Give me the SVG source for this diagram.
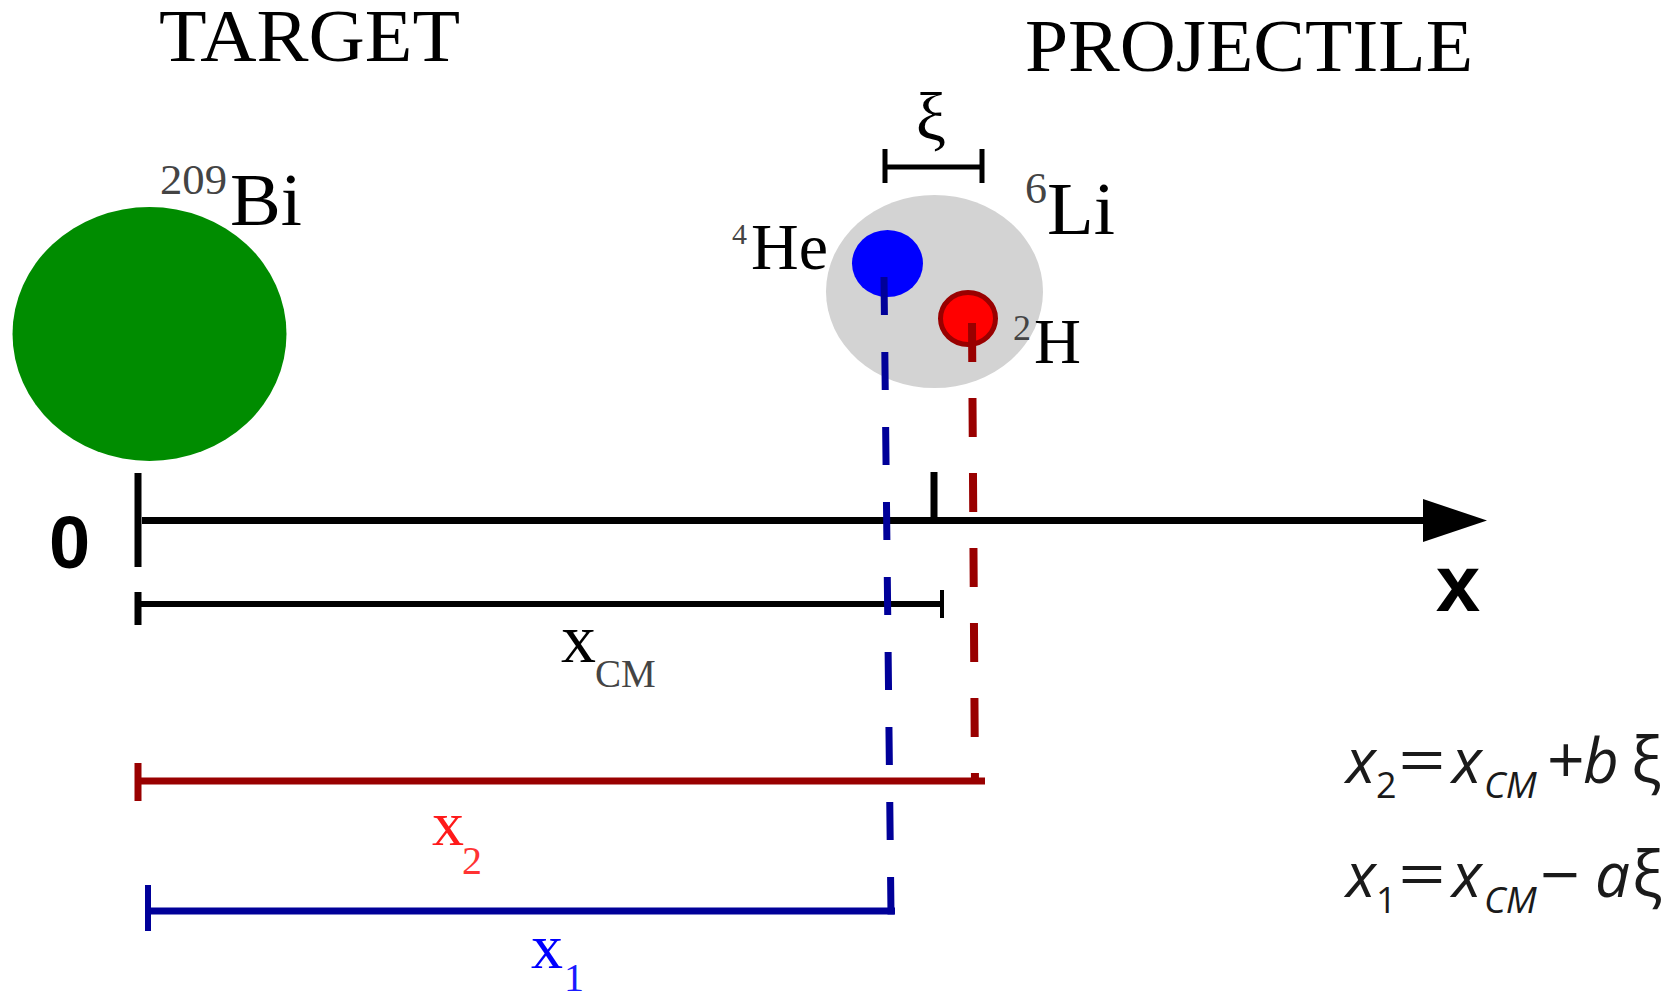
<svg xmlns="http://www.w3.org/2000/svg" width="1676" height="992" viewBox="0 0 1676 992">
  <style>
    .serif { font-family: "Liberation Serif", "Times New Roman", serif; fill: #000; }
    .sup { font-family: "Liberation Serif", "Times New Roman", serif; fill: #444; }
    .bold { font-family: "Liberation Sans", Arial, sans-serif; font-weight: bold; fill: #000; }
    .eq { font-family: "Open Sans", "DejaVu Sans", sans-serif; fill: #1a1a1a; }
    .it { font-style: italic; }
    .blk { stroke: #000; fill: none; }
    .dblue { stroke: #000099; fill: none; }
    .dred { stroke: #990000; fill: none; }
  </style>
  <defs>
    <marker id="arrow" markerUnits="userSpaceOnUse" markerWidth="66" markerHeight="46" refX="2" refY="23" orient="auto">
      <polygon points="0,1.5 64,23 0,44.5" fill="#000"/>
    </marker>
  </defs>
  <rect x="0" y="0" width="1676" height="992" fill="#ffffff"/>

  <!-- headings -->
  <g id="heading-target">
    <text class="serif" x="159" y="61" font-size="75" textLength="301" lengthAdjust="spacingAndGlyphs">TARGET</text>
  </g>
  <g id="heading-projectile">
    <text class="serif" x="1025" y="71" font-size="75" textLength="448" lengthAdjust="spacingAndGlyphs">PROJECTILE</text>
  </g>

  <!-- target nucleus -->
  <g id="node-bi">
    <ellipse cx="149.5" cy="334" rx="137" ry="127" fill="#008c00"/>
    <text class="sup" x="160" y="194" font-size="43" textLength="67" lengthAdjust="spacingAndGlyphs">209</text>
    <text class="serif" x="230" y="225" font-size="74" textLength="72" lengthAdjust="spacingAndGlyphs">Bi</text>
  </g>

  <!-- projectile nucleus -->
  <g id="node-li">
    <ellipse cx="934.5" cy="291.5" rx="108.5" ry="96.5" fill="#d3d3d3"/>
    <text class="sup" x="1025" y="203" font-size="44">6</text>
    <text class="serif" x="1047" y="234" font-size="74" textLength="68" lengthAdjust="spacingAndGlyphs">Li</text>
  </g>

  <g id="node-he">
    <ellipse cx="887.5" cy="263.5" rx="35.5" ry="33.5" fill="#0000ff"/>
    <text class="sup" x="732" y="244" font-size="30">4</text>
    <text class="serif" x="751" y="269" font-size="66" textLength="77" lengthAdjust="spacingAndGlyphs">He</text>
  </g>

  <g id="node-h">
    <ellipse cx="968" cy="318.5" rx="27.5" ry="26" fill="#ff0000" stroke="#990000" stroke-width="5"/>
    <text class="sup" x="1013" y="340" font-size="36">2</text>
    <text class="serif" x="1034" y="363" font-size="64" textLength="47" lengthAdjust="spacingAndGlyphs">H</text>
  </g>

  <!-- xi separation bar -->
  <g id="xi-bar">
    <line class="blk" x1="885" y1="167" x2="982" y2="167" stroke-width="5"/>
    <line class="blk" x1="885" y1="149" x2="885" y2="183" stroke-width="5"/>
    <line class="blk" x1="982" y1="149" x2="982" y2="183" stroke-width="5"/>
    <text class="serif" x="931" y="140" font-size="68" text-anchor="middle">ξ</text>
  </g>

  <!-- x axis -->
  <g id="axis">
    <line class="blk" x1="138" y1="473" x2="138" y2="567" stroke-width="7"/>
    <line class="blk" x1="142" y1="520.5" x2="1425" y2="520.5" stroke-width="7" marker-end="url(#arrow)"/>
    <line class="blk" x1="934" y1="472" x2="934" y2="520" stroke-width="7"/>
    <text class="bold" x="49" y="568" font-size="74">0</text>
    <text class="bold" x="1458" y="611" font-size="80" text-anchor="middle">x</text>
  </g>

  <!-- distance bars and projection lines -->
  <g id="connectors">
    <!-- x_CM bar -->
    <line class="blk" x1="138" y1="604" x2="942" y2="604" stroke-width="6"/>
    <line class="blk" x1="138" y1="592" x2="138" y2="625" stroke-width="7"/>
    <line class="blk" x1="942" y1="590" x2="942" y2="618" stroke-width="4"/>
    <!-- x_2 bar -->
    <line class="dred" x1="138" y1="781" x2="985" y2="781" stroke-width="7"/>
    <line class="dred" x1="138" y1="763" x2="138" y2="801" stroke-width="7"/>
    <!-- x_1 bar -->
    <line class="dblue" x1="148" y1="911" x2="895" y2="911" stroke-width="7"/>
    <line class="dblue" x1="148" y1="885" x2="148" y2="931" stroke-width="6"/>
    <!-- dashed projections -->
    <line class="dblue" x1="884" y1="277" x2="891" y2="914.5" stroke-width="7" stroke-dasharray="38 37"/>
    <line class="dred" x1="972" y1="323" x2="975" y2="784" stroke-width="8" stroke-dasharray="39 36"/>
  </g>

  <!-- bar labels -->
  <g id="label-xcm">
    <text class="serif" x="561" y="662" font-size="70">x</text>
    <text class="sup" x="595" y="687" font-size="39">CM</text>
  </g>
  <g id="label-x2">
    <text class="serif" x="432" y="845" font-size="64" style="fill:#ff1a1a">x</text>
    <text class="serif" x="462" y="874" font-size="40" style="fill:#ff3333">2</text>
  </g>
  <g id="label-x1">
    <text class="serif" x="531" y="968" font-size="64" style="fill:#0000ff">x</text>
    <text class="serif" x="564" y="991" font-size="40" style="fill:#1a1aff">1</text>
  </g>

  <!-- equations -->
  <g id="equation-x2">
    <text class="eq it" x="1346" y="783" font-size="62">x</text>
    <text class="eq" x="1376" y="798" font-size="36">2</text>
    <text class="eq" x="1398" y="783" font-size="62" textLength="48" lengthAdjust="spacingAndGlyphs">=</text>
    <text class="eq it" x="1452" y="783" font-size="62">x</text>
    <text class="eq it" x="1484" y="798" font-size="37">CM</text>
    <text class="eq" x="1547" y="783" font-size="66">+</text>
    <text class="eq it" x="1583" y="783" font-size="62">b</text>
    <text class="eq" x="1631" y="783" font-size="64">ξ</text>
  </g>
  <g id="equation-x1">
    <text class="eq it" x="1346" y="897" font-size="62">x</text>
    <text class="eq" x="1376" y="913" font-size="36">1</text>
    <text class="eq" x="1398" y="897" font-size="62" textLength="48" lengthAdjust="spacingAndGlyphs">=</text>
    <text class="eq it" x="1452" y="897" font-size="62">x</text>
    <text class="eq it" x="1484" y="913" font-size="37">CM</text>
    <text class="eq" x="1540" y="897" font-size="62" textLength="40" lengthAdjust="spacingAndGlyphs">−</text>
    <text class="eq it" x="1595" y="897" font-size="62">a</text>
    <text class="eq" x="1632" y="897" font-size="64">ξ</text>
  </g>
</svg>
